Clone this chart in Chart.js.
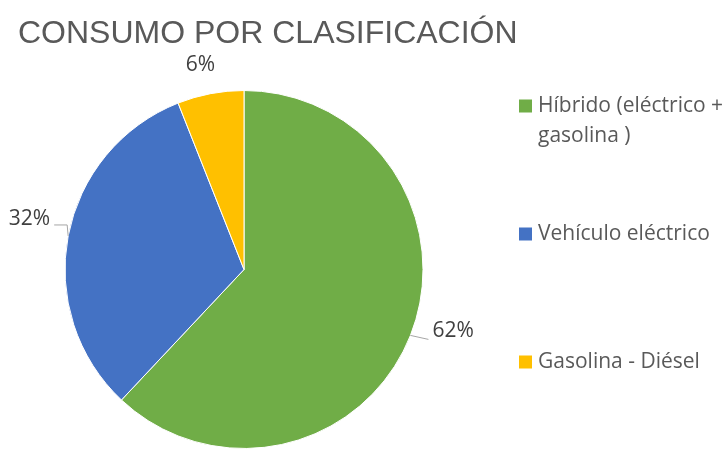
<!DOCTYPE html>
<html><head><meta charset="utf-8">
<script src="https://cdn.jsdelivr.net/npm/chart.js@4"></script>
<style>html,body{margin:0;padding:0;background:#fff}#wrap{width:726px;height:449px;position:relative}</style>
</head><body><div id="wrap"><canvas id="c" width="726" height="449"></canvas></div>
<script>
const titleText = "CONSUMO POR CLASIFICACIÓN";
const categories = [["Híbrido (eléctrico +", "gasolina )"], ["Vehículo eléctrico"], ["Gasolina - Diésel"]];
const values = [62, 32, 6];
const colors = ["#70AD47", "#4472C4", "#FFC000"];

const overlay = {
  id: 'overlay',
  afterDraw(chart) {
    const ctx = chart.ctx;
    ctx.save();
    // title
    ctx.fillStyle = '#595959';
    ctx.font = '32px "Liberation Sans", Arial, sans-serif';
    ctx.textBaseline = 'alphabetic';
    ctx.textAlign = 'left';
    ctx.fillText(titleText, 18, 43);
    // legend
    const legY = [106, 234, 362];
    ctx.font = '21px "Open Sans", sans-serif';
    ctx.textBaseline = 'middle';
    categories.forEach((lines, i) => {
      ctx.fillStyle = colors[i];
      ctx.fillRect(519, legY[i] - 6.5, 13, 13);
      ctx.fillStyle = '#595959';
      lines.forEach((t, j) => ctx.fillText(t, 538, legY[i] + j * 30));
    });
    // data labels
    const meta = chart.getDatasetMeta(0);
    const total = values.reduce((a, b) => a + b, 0);
    ctx.font = '21px "Open Sans", sans-serif';
    ctx.fillStyle = '#404040';
    ctx.strokeStyle = '#A6A6A6';
    ctx.lineWidth = 1;
    meta.data.forEach((arc, i) => {
      const p = arc.getProps(['x', 'y', 'startAngle', 'endAngle', 'outerRadius'], true);
      const mid = (p.startAngle + p.endAngle) / 2;
      const ex = p.x + Math.cos(mid) * p.outerRadius;
      const ey = p.y + Math.sin(mid) * p.outerRadius;
      const txt = Math.round(values[i] / total * 100) + '%';
      if (i === 0) {
        ctx.beginPath(); ctx.moveTo(ex, ey); ctx.lineTo(ex + 18, ey + 4); ctx.stroke();
        ctx.textAlign = 'left'; ctx.fillText(txt, ex + 22, ey - 4);
      } else if (i === 1) {
        ctx.beginPath(); ctx.moveTo(ex, ey); ctx.lineTo(ex - 1, ey - 11); ctx.lineTo(ex - 14, ey - 11); ctx.stroke();
        ctx.textAlign = 'right'; ctx.fillText(txt, ex - 18, ey - 17);
      } else {
        ctx.textAlign = 'center'; ctx.fillText(txt, ex - 10, ey - 29);
      }
    });
    ctx.restore();
  }
};

new Chart(document.getElementById('c'), {
  type: 'pie',
  data: {
    labels: categories.map(l => l.join(' ')),
    datasets: [{ data: values, backgroundColor: colors, borderColor: '#ffffff', borderWidth: 1 }]
  },
  options: {
    responsive: false,
    animation: false,
    layout: { padding: { top: 90, bottom: 0, left: 64, right: 302 } },
    plugins: { legend: { display: false }, tooltip: { enabled: false }, title: { display: false } }
  },
  plugins: [overlay]
});
</script></body></html>
